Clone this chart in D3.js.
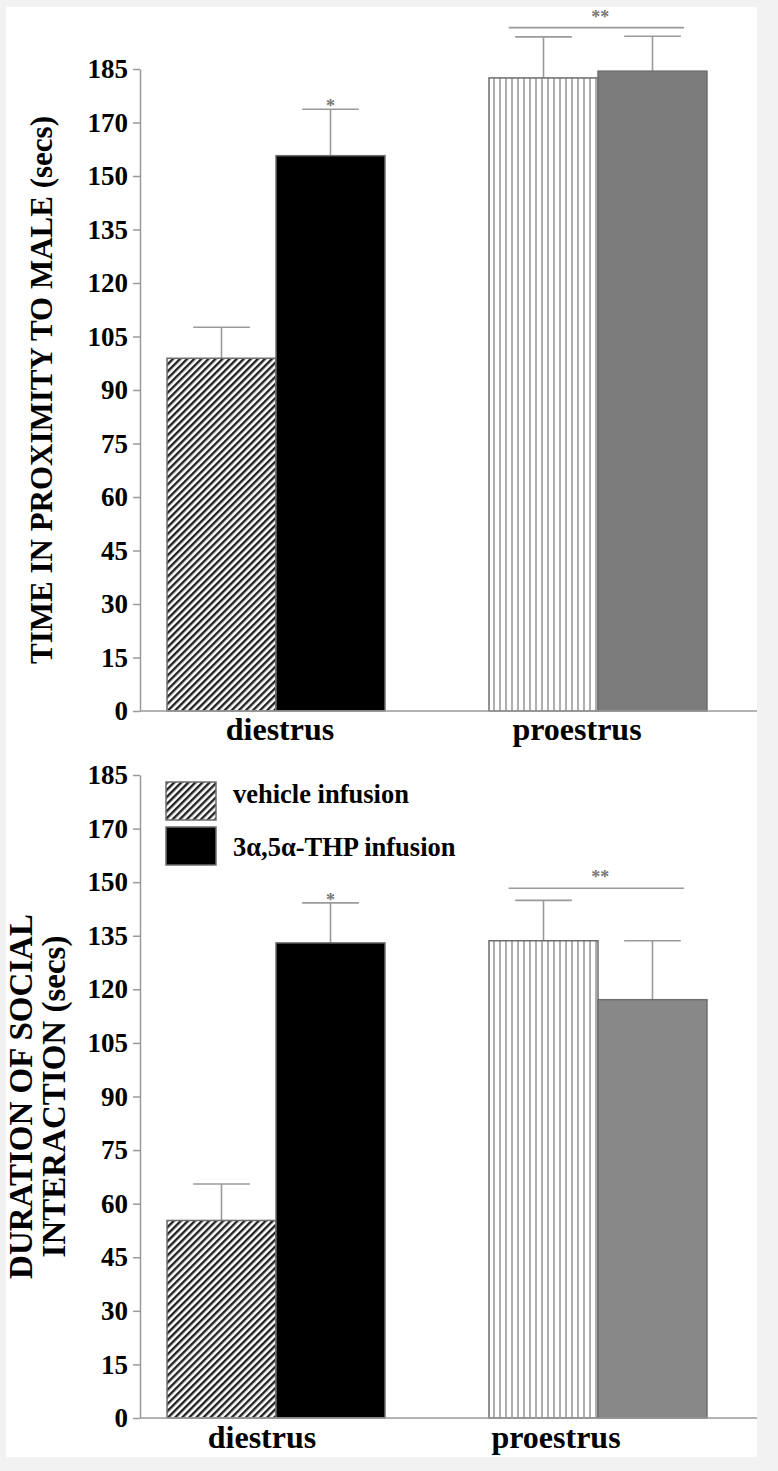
<!DOCTYPE html>
<html>
  <head>
    <meta charset="UTF-8">
    <title></title>
    <style>
    body {
      margin: 0;
      background-color: #f2f2f2;
    }

    text {
      font-family: "Liberation Serif", "DejaVu Serif", serif;
      font-weight: bold;
    }

    .axis path, .axis line {
      stroke: #9a9a9a;
      stroke-width: 1.5px;
    }

    .axis text {
      font-size: 27px;
      fill: #000;
    }
    </style>
  </head>
  <body>
    <svg id="chart"></svg>
  </body>
  <script src="https://cdn.jsdelivr.net/npm/d3@7"></script>
  <script>
  var width = 778, height = 1471;

  // categories / series
  var groups = ["diestrus", "proestrus"];
  var series = ["vehicle infusion", "3α,5α-THP infusion"];

  // y ticks (the printed labels differ from even steps at the top)
  var tickValues = [0, 15, 30, 45, 60, 75, 90, 105, 120, 135, 150, 165, 180];
  var tickLabels = ["0", "15", "30", "45", "60", "75", "90", "105", "120", "135", "150", "170", "185"];

  // top panel: time in proximity to male, [diestrus, proestrus]
  var proximityVehicle = [98.9, 177.5];
  var proximityVehicleSem = [8.7, 11.5];
  var proximityTHP = [155.7, 179.4];
  var proximityTHPSem = [13.0, 9.8];
  var proximityStars = ["*", ""];   // over THP bar per group
  var proximityGroupSig = 191.6;    // "**" bracket over proestrus

  // bottom panel: duration of social interaction
  var socialVehicle = [55.3, 133.6];
  var socialVehicleSem = [10.2, 11.3];
  var socialTHP = [133.0, 117.1];
  var socialTHPSem = [11.2, 16.5];
  var socialStars = ["*", ""];
  var socialGroupSig = 148.3;

  var svg = d3.select("svg#chart")
    .attr("width", width)
    .attr("height", height);

  // white card
  svg.append("rect")
    .attr("x", 6)
    .attr("y", 7)
    .attr("width", 751)
    .attr("height", 1450)
    .attr("fill", "#fff");

  var defs = svg.append("defs");

  defs.append("pattern")
    .attr("id", "diag")
    .attr("patternUnits", "userSpaceOnUse")
    .attr("width", 5)
    .attr("height", 10)
    .attr("patternTransform", "rotate(45)")
    .call(function(p) {
      p.append("rect").attr("width", 5).attr("height", 10).attr("fill", "#fff");
      p.append("line")
        .attr("x1", 1.2).attr("x2", 1.2).attr("y1", 0).attr("y2", 10)
        .attr("stroke", "#222").attr("stroke-width", 2.4);
    });

  defs.append("pattern")
    .attr("id", "vert")
    .attr("patternUnits", "userSpaceOnUse")
    .attr("width", 6)
    .attr("height", 10)
    .call(function(p) {
      p.append("rect").attr("width", 6).attr("height", 10).attr("fill", "#fff");
      p.append("line")
        .attr("x1", 2).attr("x2", 2).attr("y1", 0).attr("y2", 10)
        .attr("stroke", "#9a9a9a").attr("stroke-width", 1.6);
    });

  var x = d3.scaleBand()
    .domain(groups)
    .range([63, 811])
    .padding(0.323);

  var xs = d3.scaleBand()
    .domain(series)
    .range([0, x.bandwidth()]);

  function drawPanel(cfg) {
    var y = d3.scaleLinear().domain([0, 180]).range([cfg.y0, cfg.y1]);
    var g = svg.append("g");

    var rows = [];
    groups.forEach(function(grp, i) {
      rows.push({ group: grp, s: series[0], v: cfg.vehicle[i], e: cfg.vehicleSem[i], fill: cfg.fills[i][0], star: "" });
      rows.push({ group: grp, s: series[1], v: cfg.thp[i], e: cfg.thpSem[i], fill: cfg.fills[i][1], star: cfg.stars[i] });
    });

    // error bars (upper only)
    var cap = xs.bandwidth() * 0.26;
    var eb = g.selectAll(".err").data(rows).enter().append("g").attr("class", "err");
    eb.append("line")
      .attr("x1", function(d) { return x(d.group) + xs(d.s) + xs.bandwidth() / 2; })
      .attr("x2", function(d) { return x(d.group) + xs(d.s) + xs.bandwidth() / 2; })
      .attr("y1", function(d) { return y(d.v); })
      .attr("y2", function(d) { return y(d.v + d.e); })
      .attr("stroke", "#9a9a9a").attr("stroke-width", 1.6);
    eb.append("line")
      .attr("x1", function(d) { return x(d.group) + xs(d.s) + xs.bandwidth() / 2 - cap; })
      .attr("x2", function(d) { return x(d.group) + xs(d.s) + xs.bandwidth() / 2 + cap; })
      .attr("y1", function(d) { return y(d.v + d.e); })
      .attr("y2", function(d) { return y(d.v + d.e); })
      .attr("stroke", "#9a9a9a").attr("stroke-width", 1.6);
    eb.append("text")
      .attr("x", function(d) { return x(d.group) + xs(d.s) + xs.bandwidth() / 2; })
      .attr("y", function(d) { return y(d.v + d.e) + 3; })
      .attr("text-anchor", "middle")
      .style("font-size", "18px")
      .style("fill", "#777")
      .text(function(d) { return d.star; });

    g.selectAll(".bar")
      .data(rows)
      .enter()
      .append("rect")
      .attr("class", "bar")
      .attr("x", function(d) { return x(d.group) + xs(d.s); })
      .attr("y", function(d) { return y(d.v); })
      .attr("width", xs.bandwidth())
      .attr("height", function(d) { return y(0) - y(d.v); })
      .attr("fill", function(d) { return d.fill; })
      .attr("stroke", "#6e6e6e")
      .attr("stroke-width", 1.5);

    // group bracket over proestrus
    var gx = x(groups[1]);
    g.append("line")
      .attr("x1", gx + x.bandwidth() * 0.09)
      .attr("x2", gx + x.bandwidth() * 0.895)
      .attr("y1", y(cfg.groupSig))
      .attr("y2", y(cfg.groupSig))
      .attr("stroke", "#9a9a9a").attr("stroke-width", 1.6);
    g.append("text")
      .attr("x", gx + x.bandwidth() * 0.51)
      .attr("y", y(cfg.groupSig) - 5)
      .attr("text-anchor", "middle")
      .style("font-size", "18px")
      .style("fill", "#777")
      .text("**");

    // y axis
    g.append("g")
      .attr("class", "axis")
      .attr("transform", "translate(140,0)")
      .call(d3.axisLeft(y)
        .tickValues(tickValues)
        .tickFormat(function(d, i) { return tickLabels[i]; })
        .tickSize(7)
        .tickSizeOuter(0)
        .tickPadding(5));

    // baseline
    g.append("line")
      .attr("x1", 140).attr("x2", 757)
      .attr("y1", y(0)).attr("y2", y(0))
      .attr("stroke", "#9a9a9a").attr("stroke-width", 1.5);

    // category labels
    g.selectAll(".cat")
      .data(groups)
      .enter()
      .append("text")
      .attr("class", "cat")
      .attr("x", function(d, i) { return x(d) + x.bandwidth() / 2 + cfg.labelDx[i]; })
      .attr("y", cfg.labelY)
      .attr("text-anchor", "middle")
      .style("font-size", "32px")
      .text(function(d) { return d; });

    // y title
    var t = g.append("text")
      .attr("transform", "translate(0," + (cfg.y0 + cfg.y1) / 2 + ")rotate(-90)")
      .attr("text-anchor", "middle")
      .style("font-size", cfg.titleSize);
    cfg.title.forEach(function(line, i) {
      t.append("tspan")
        .attr("x", 0)
        .attr("y", cfg.titleX[i])
        .text(line);
    });

    return y;
  }

  drawPanel({
    y0: 711, y1: 69,
    vehicle: proximityVehicle, vehicleSem: proximityVehicleSem,
    thp: proximityTHP, thpSem: proximityTHPSem,
    stars: proximityStars, groupSig: proximityGroupSig,
    fills: [["url(#diag)", "#000"], ["url(#vert)", "#7b7b7b"]],
    labelDx: [4, -21], labelY: 740,
    title: ["TIME IN PROXIMITY TO MALE (secs)"], titleX: [52], titleSize: "31px"
  });

  drawPanel({
    y0: 1418, y1: 775,
    vehicle: socialVehicle, vehicleSem: socialVehicleSem,
    thp: socialTHP, thpSem: socialTHPSem,
    stars: socialStars, groupSig: socialGroupSig,
    fills: [["url(#diag)", "#000"], ["url(#vert)", "#888"]],
    labelDx: [-14, -42], labelY: 1448,
    title: ["DURATION OF SOCIAL", "INTERACTION (secs)"], titleX: [32, 65], titleSize: "33px"
  });

  // legend (bottom panel)
  var legend = svg.append("g")
    .selectAll("g")
    .data(series)
    .enter()
    .append("g")
    .attr("transform", function(d, i) { return "translate(166," + (782 + i * 45) + ")"; });

  legend.append("rect")
    .attr("width", 50)
    .attr("height", 38)
    .attr("fill", function(d, i) { return i == 0 ? "url(#diag)" : "#000"; })
    .attr("stroke", "#6e6e6e")
    .attr("stroke-width", 1.5);

  legend.append("text")
    .attr("x", 67)
    .attr("y", function(d, i) { return i == 0 ? 21 : 29; })
    .style("font-size", "26.5px")
    .text(function(d) { return d; });
  </script>
</html>
